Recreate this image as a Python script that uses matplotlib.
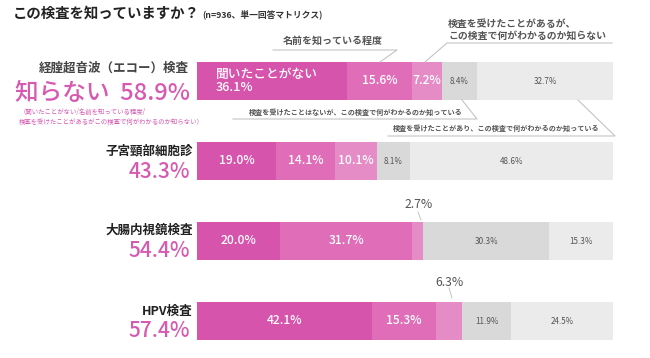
import numpy as np
import matplotlib.pyplot as plt

plt.rcParams['font.family'] = ['Noto Sans CJK JP', 'DejaVu Sans']

# データ
tests = ["経腟超音波（エコー）検査", "子宮頸部細胞診", "大腸内視鏡検査", "HPV検査"]
never_heard = [36.1, 19.0, 20.0, 42.1]        # 聞いたことがない
name_only = [15.6, 14.1, 31.7, 15.3]          # 名前を知っている程度
done_unknown = [7.2, 10.1, 2.7, 6.3]          # 受けたことがあるが何がわかるか知らない
notdone_known = [8.4, 8.1, 30.3, 11.9]        # 受けたことはないが知っている
done_known = [32.7, 48.6, 15.3, 24.5]         # 受けたことがあり知っている
unknown_total = ["58.9%", "43.3%", "54.4%", "57.4%"]

series = [never_heard, name_only, done_unknown, notdone_known, done_known]
colors = ["#D754AC", "#DF6DB8", "#E58BC6", "#D9D9D9", "#EBEBEB"]
pink_txt = "#D65AB1"

W, H = 650, 358
fig = plt.figure(figsize=(W / 100, H / 100), dpi=100)

def px(x, y):
    return x / W, 1 - y / H

# 棒グラフ
ax = fig.add_axes([197 / W, (H - 345) / H, 416 / W, 304 / H])
y = np.arange(len(tests))
left = np.zeros(len(tests))
for k, vals in enumerate(series):
    ax.barh(y, vals, left=left, height=0.475, color=colors[k], edgecolor="none")
    for i, v in enumerate(vals):
        cx = left[i] + v / 2
        if k <= 2:
            if (i == 2 or i == 3) and k == 2:
                continue  # 細い区間は上に注記
            if i == 0 and k == 0:
                ax.text(left[i] + 4.5, i, "聞いたことがない\n" + f"{v:.1f}%", color="white",
                        fontsize=9.2, fontweight="medium", ha="left", va="center",
                        linespacing=1.05)
            else:
                ax.text(cx, i, f"{v:.1f}%", color="white", fontsize=8.7,
                        fontweight="medium", ha="center", va="center")
        else:
            ax.text(cx, i, f"{v:.1f}%", color="#555555", fontsize=5.8,
                    ha="center", va="center")
    left = left + np.array(vals)
ax.set_xlim(0, 100)
ax.set_ylim(3.3, -0.5)
ax.axis("off")

# タイトル
fig.text(*px(13, 14), "この検査を知っていますか？", fontsize=10.4, fontweight="bold",
         color="#222222", ha="left", va="center")
fig.text(*px(202, 15), "(n=936、単一回答マトリクス)", fontsize=6.3, fontweight="bold",
         color="#333333", ha="left", va="center")

# 左側ラベル
fig.text(*px(189, 68), tests[0], fontsize=9, fontweight="bold", color="#444444",
         ha="right", va="center")
fig.text(*px(190, 93), "知らない  " + unknown_total[0], fontsize=17, fontweight="medium",
         color=pink_txt, ha="right", va="center")
fig.text(*px(204, 117), "（聞いたことがない/名前を知っている程度/\n検査を受けたことがあるがこの検査で何がわかるのか知らない）",
         fontsize=4.6, color=pink_txt, ha="right", va="center", multialignment="left",
         linespacing=1.3)
label_y = [(151, 172), (230, 251), (311, 331)]
for i in range(1, 4):
    ly, py = label_y[i - 1]
    fig.text(*px(193, ly), tests[i], fontsize=9, fontweight="bold", color="#222222",
             ha="right", va="center")
    fig.text(*px(190, py), unknown_total[i], fontsize=15, fontweight="medium",
             color=pink_txt, ha="right", va="center")

# 注記と引き出し線
ov = fig.add_axes([0, 0, 1, 1], facecolor="none")
ov.set_xlim(0, W)
ov.set_ylim(H, 0)
ov.axis("off")
lc = "#C4C4C4"
ann_txt = "#555555"
ov.text(333, 41, "名前を知っている程度", fontsize=7.2, fontweight="bold", color=ann_txt,
        ha="center", va="center")
ov.plot([273, 397, 380], [50, 50, 62], color=lc, lw=0.8)
ov.text(448, 30, "検査を受けたことがあるが、\nこの検査で何がわかるのか知らない", fontsize=7.1,
        fontweight="bold", color=ann_txt, ha="left", va="center", linespacing=1.15)
ov.plot([425, 447, 612], [62, 43, 43], color=lc, lw=0.8)
ov.text(356, 112, "検査を受けたことはないが、この検査で何がわかるのか知っている", fontsize=5.1,
        fontweight="bold", color=ann_txt, ha="center", va="center")
ov.plot([233, 477, 462], [119, 119, 100], color=lc, lw=0.8)
ov.text(496, 128, "検査を受けたことがあり、この検査で何がわかるのか知っている", fontsize=5.1,
        fontweight="bold", color=ann_txt, ha="center", va="center")
ov.plot([388, 615, 578], [136, 136, 100], color=lc, lw=0.8)

ov.text(419, 205, f"{done_unknown[2]:.1f}%", fontsize=8.8, color=ann_txt, ha="center", va="center")
ov.plot([418, 421], [212, 220], color=lc, lw=0.7)
ov.text(449, 282, f"{done_unknown[3]:.1f}%", fontsize=8.8, color=ann_txt, ha="center", va="center")
ov.plot([449, 452], [288, 298], color=lc, lw=0.7)

fig.savefig("out.png", dpi=100, facecolor="white")
